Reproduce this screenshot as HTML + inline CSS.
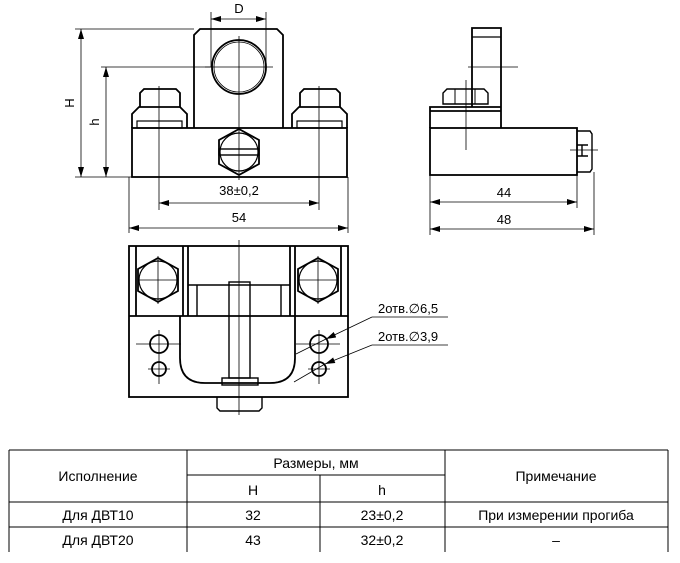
<!DOCTYPE html>
<html><head><meta charset="utf-8"><style>
html,body{margin:0;padding:0;background:#fff}
svg{display:block}
text{font-family:"Liberation Sans",Arial,sans-serif;fill:#000}
</style></head><body>
<svg width="680" height="563" viewBox="0 0 680 563" xmlns="http://www.w3.org/2000/svg">
<defs>
<marker id="a" viewBox="0 0 10 6" refX="10" refY="3" markerWidth="10" markerHeight="6" orient="auto-start-reverse" markerUnits="userSpaceOnUse"><path d="M0,0 L10,3 L0,6 z" fill="#000"/></marker>
</defs>
<g fill="none" stroke="#000" stroke-width="1.8">
<rect x="132" y="128" width="215" height="49"/>
<path d="M194,128 V35 L200,29 H277 L283,35 V128"/>
<circle cx="239" cy="67" r="27"/>
<circle cx="239" cy="67" r="25" stroke-width="0.8"/>
<path d="M132,128 V114 L139,107 H180 L187,114 V128"/>
<path d="M140,107 V93 L144,89 H176 L180,93 V107"/>
<rect x="137" y="121" width="45" height="7" stroke-width="1.2"/>
<path d="M292,128 V114 L299,107 H340 L347,114 V128"/>
<path d="M300,107 V93 L304,89 H336 L340,93 V107"/>
<rect x="297" y="121" width="45" height="7" stroke-width="1.2"/>
<path d="M239,129 L259,140 V164 L239,175 L219,164 V140 Z"/>
<circle cx="239" cy="152" r="19" stroke-width="1.2"/>
<rect x="219" y="149" width="40" height="6" stroke-width="1.4"/>
</g>
<g fill="none" stroke="#000" stroke-width="0.8">
<path d="M159,86 V210 M319,86 V210 M239,36 V180 M205,67 H273"/>
<path d="M211,12 V67 M266,12 V67"/>
<path d="M75,29 H194 M75,177 H132 M101,67 H212"/>
<path d="M129,177 V233 M348,177 V233"/>
<line x1="211" y1="19" x2="266" y2="19" marker-start="url(#a)" marker-end="url(#a)"/>
<line x1="81" y1="29" x2="81" y2="177" marker-start="url(#a)" marker-end="url(#a)"/>
<line x1="106" y1="67" x2="106" y2="177" marker-start="url(#a)" marker-end="url(#a)"/>
<line x1="159" y1="203" x2="319" y2="203" marker-start="url(#a)" marker-end="url(#a)"/>
<line x1="129" y1="228" x2="348" y2="228" marker-start="url(#a)" marker-end="url(#a)"/>
<path d="M430,175 V235 M577,175 V208 M594,172 V235 M468,67 H518 M466,80 V150 M570,150 H598"/>
<line x1="430" y1="202" x2="577" y2="202" marker-start="url(#a)" marker-end="url(#a)"/>
<line x1="430" y1="229" x2="594" y2="229" marker-start="url(#a)" marker-end="url(#a)"/>
</g>
<g font-size="13" text-anchor="middle">
<text x="239" y="13">D</text>
<text x="239" y="195">38±0,2</text>
<text x="239" y="222">54</text>
<text x="504" y="197">44</text>
<text x="504" y="224">48</text>
<text transform="translate(74,103) rotate(-90)">H</text>
<text transform="translate(99,122) rotate(-90)">h</text>
</g>
<g fill="none" stroke="#000" stroke-width="1.8">
<rect x="430" y="128" width="147" height="47"/>
<path d="M430,128 V107 H501 M430,111 H501"/>
<path d="M472,107 V28 H501 V128" />
<path d="M472,37 H501" stroke-width="1.2"/>
<path d="M443,104 V93 L447,89 H484 L488,93 V104 Z" stroke-width="1.4"/>
<path d="M455,89 V104 M475,89 V104" stroke-width="1"/>
<path d="M577,131 H590 L592,134 V169 L590,172 H577 M577,145 H588 M577,156 H588 M582,145 V156" stroke-width="1.4"/>
</g>
<g fill="none" stroke="#000" stroke-width="1.8">
<rect x="129" y="246" width="219" height="151"/>
<path d="M129,316 H348"/>
<path d="M136,246 V316 M183,246 V316 M188,246 V316 M290,246 V316 M295,246 V316 M341,246 V316"/>
<path d="M188,285 H290 M197,285 V316 M281,285 V316" stroke-width="1.4"/>
<path d="M158,258 L178,269 V291 L158,302 L138,291 V269 Z"/>
<circle cx="158" cy="280" r="19" stroke-width="1.2"/>
<path d="M318,258 L338,269 V291 L318,302 L298,291 V269 Z"/>
<circle cx="318" cy="280" r="19" stroke-width="1.2"/>
<path d="M180,316 V358 Q180,383 205,383 H270 Q295,383 295,358 V316"/>
<rect x="229" y="282" width="21" height="96" stroke-width="1.4"/>
<rect x="222" y="378" width="36" height="7" stroke-width="1.4"/>
<path d="M217,397 V408 L220,411 H259 L262,408 V397" stroke-width="1.4"/>
<circle cx="159" cy="344" r="9"/>
<circle cx="159" cy="369" r="7"/>
<circle cx="319" cy="344" r="9"/>
<circle cx="319" cy="369" r="7"/>
</g>
<g fill="none" stroke="#000" stroke-width="0.8">
<path d="M239,240 V415 M136,344 H181 M296,344 H340 M159,330 V384 M319,330 V384 M148,369 H170 M308,369 H330 M138,280 H178 M298,280 H338 M158,256 V304 M318,256 V304"/>
<path d="M372,317 H448 M372,345 H448"/>
<line x1="372" y1="317" x2="326" y2="339" marker-end="url(#a)"/>
<path d="M326,339 L296,354"/>
<line x1="372" y1="345" x2="325" y2="364" marker-end="url(#a)"/>
<path d="M325,364 L294,382"/>
</g>
<g font-size="13">
<text x="378" y="313">2отв.∅6,5</text>
<text x="378" y="341">2отв.∅3,9</text>
</g>
<g fill="none" stroke="#000" stroke-width="1">
<path d="M9,450 H668 M9,450 V552 M668,450 V552 M187,450 V552 M445,450 V552 M320,475 V552 M187,475 H445 M9,502 H668 M9,527 H668"/>
</g>
<g font-size="14" text-anchor="middle">
<text x="98" y="481">Исполнение</text>
<text x="316" y="468">Размеры, мм</text>
<text x="556" y="481">Примечание</text>
<text x="253" y="495">H</text>
<text x="382" y="495">h</text>
<text x="98" y="520">Для ДВТ10</text>
<text x="253" y="520">32</text>
<text x="382" y="520">23±0,2</text>
<text x="556" y="520">При измерении прогиба</text>
<text x="98" y="545">Для ДВТ20</text>
<text x="253" y="545">43</text>
<text x="382" y="545">32±0,2</text>
<text x="556" y="545">–</text>
</g>
</svg>
</body></html>
